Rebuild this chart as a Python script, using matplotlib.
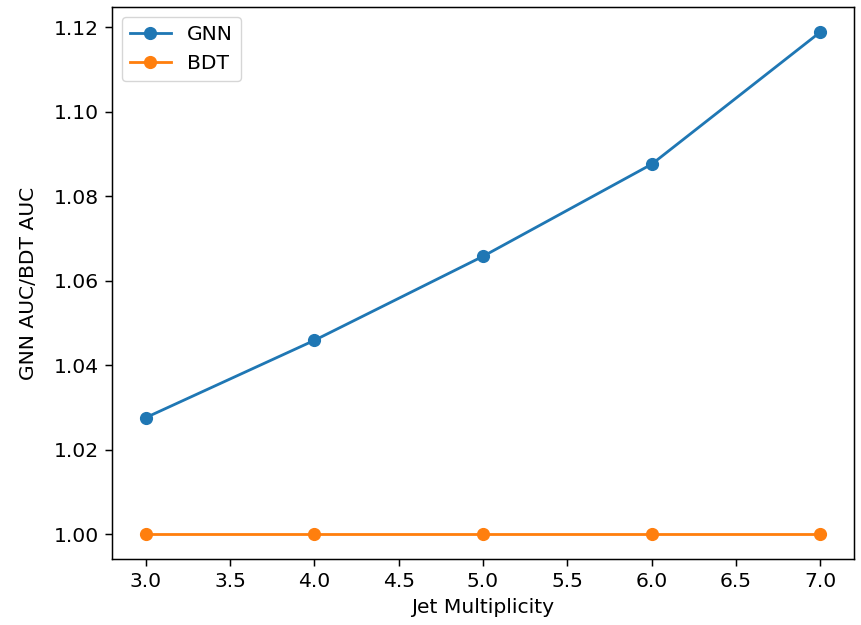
import matplotlib
matplotlib.use("Agg")
import matplotlib.pyplot as plt

jet_multiplicity = [3.0, 4.0, 5.0, 6.0, 7.0]
gnn_ratio = [1.0276, 1.0459, 1.0658, 1.0876, 1.1189]
bdt_ratio = [1.0, 1.0, 1.0, 1.0, 1.0]

s = 1.345
plt.rcParams['font.size'] = 14.6
fig = plt.figure(figsize=(8.61, 6.25), dpi=100)
ax = fig.add_axes([0.130, 0.105, 0.862, 0.884])
ax.plot(jet_multiplicity, gnn_ratio, marker='o', label='GNN', lw=1.5 * s, ms=6.3 * s)
ax.plot(jet_multiplicity, bdt_ratio, marker='o', label='BDT', lw=1.5 * s, ms=6.3 * s)
ax.set_xlabel('Jet Multiplicity', labelpad=5)
ax.set_ylabel('GNN AUC/BDT AUC', labelpad=11)
for sp in ax.spines.values():
    sp.set_linewidth(0.8 * s)
ax.tick_params(width=0.8 * s, length=3.5 * s, pad=3.5 * s)
ax.legend(loc='upper left')
fig.savefig('out.png', dpi=100)
